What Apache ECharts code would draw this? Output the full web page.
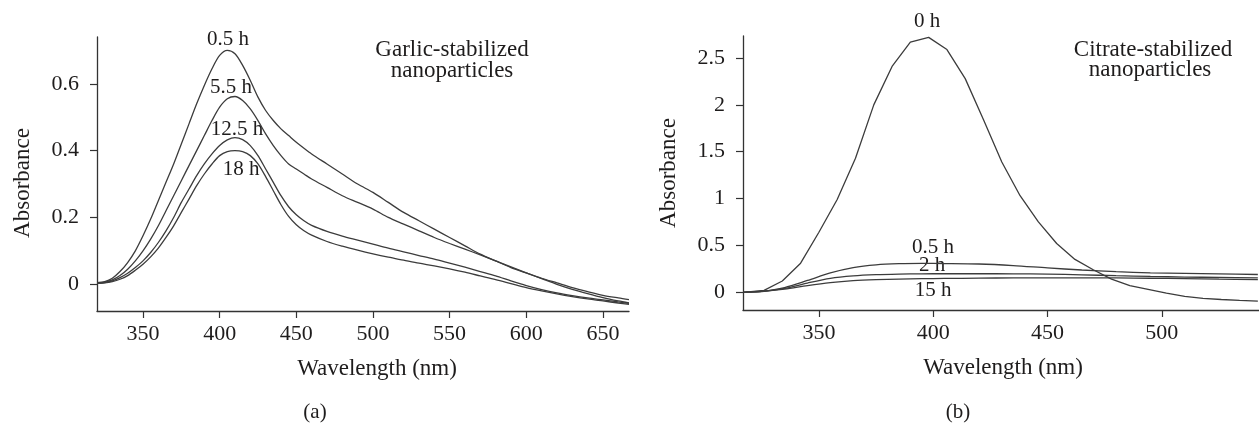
<!DOCTYPE html>
<html><head><meta charset="utf-8">
<script src="https://cdn.jsdelivr.net/npm/echarts@6/dist/echarts.min.js"></script>
<style>html,body{margin:0;padding:0;background:#fff}#c{width:1259px;height:425px}</style>
</head><body><div id="c"></div>
<script>
// ---- Panel (a): garlic-stabilized nanoparticles ----
const wlA = [320,325,330,335,340,345,350,355,360,365,370,375,380,385,390,395,400,405,410,415,420,425,430,435,440,445,450,455,460,470,480,490,500,510,520,530,540,550,560,570,580,590,600,610,620,630,640,650,660,667];
const garlic05h = [0.005,0.008,0.018,0.038,0.065,0.10,0.145,0.195,0.25,0.305,0.36,0.42,0.48,0.54,0.595,0.645,0.685,0.700,0.690,0.655,0.610,0.560,0.520,0.490,0.465,0.445,0.425,0.407,0.39,0.36,0.33,0.30,0.275,0.245,0.215,0.19,0.165,0.14,0.115,0.09,0.07,0.05,0.034,0.018,0.004,-0.01,-0.022,-0.033,-0.041,-0.046];
const garlic55h = [0.004,0.006,0.013,0.026,0.045,0.07,0.10,0.135,0.175,0.22,0.265,0.31,0.355,0.40,0.445,0.49,0.53,0.555,0.562,0.550,0.525,0.490,0.450,0.415,0.385,0.36,0.345,0.33,0.315,0.29,0.265,0.245,0.225,0.20,0.18,0.16,0.14,0.122,0.105,0.088,0.07,0.052,0.034,0.017,0.0,-0.015,-0.028,-0.04,-0.05,-0.056];
const garlic125h = [0.003,0.005,0.01,0.02,0.033,0.05,0.07,0.095,0.125,0.16,0.2,0.245,0.285,0.325,0.36,0.39,0.415,0.432,0.439,0.433,0.415,0.385,0.345,0.305,0.265,0.232,0.208,0.19,0.176,0.158,0.144,0.132,0.12,0.108,0.097,0.086,0.075,0.063,0.051,0.038,0.025,0.01,-0.004,-0.016,-0.026,-0.034,-0.041,-0.047,-0.053,-0.057];
const garlic18h = [0.003,0.004,0.008,0.015,0.026,0.042,0.06,0.082,0.108,0.14,0.175,0.215,0.255,0.295,0.33,0.36,0.385,0.397,0.40,0.397,0.385,0.36,0.322,0.28,0.238,0.203,0.178,0.16,0.147,0.128,0.114,0.102,0.091,0.081,0.072,0.063,0.055,0.046,0.036,0.025,0.014,0.002,-0.01,-0.02,-0.029,-0.037,-0.044,-0.05,-0.056,-0.06];
const xTicksA = [350,400,450,500,550,600,650];
const yTicksA = [0,0.2,0.4,0.6];

// ---- Panel (b): citrate-stabilized nanoparticles ----
const wlB0 = [318,326,334,342,350,358,366,374,382,390,398,406,414,422,430,438,446,454,462,470,478,486,494,502,510,518,526,534,542];
const citrate0h = [0.0,0.02,0.12,0.31,0.64,0.99,1.43,2.0,2.41,2.67,2.72,2.59,2.28,1.84,1.39,1.03,0.75,0.52,0.35,0.24,0.14,0.07,0.03,-0.01,-0.045,-0.065,-0.078,-0.088,-0.095];
const wlB = [317,325,335,345,355,365,375,385,395,405,420,435,450,465,480,495,510,525,542];
const citrate05h = [0.0,0.01,0.05,0.125,0.205,0.262,0.292,0.304,0.307,0.306,0.301,0.284,0.259,0.237,0.219,0.207,0.2,0.195,0.189];
const citrate2h = [0.0,0.008,0.04,0.098,0.148,0.174,0.187,0.193,0.196,0.197,0.197,0.196,0.193,0.186,0.176,0.168,0.162,0.157,0.153];
const citrate15h = [0.0,0.007,0.032,0.07,0.102,0.123,0.134,0.14,0.144,0.147,0.15,0.153,0.153,0.153,0.152,0.149,0.145,0.14,0.135];
const xTicksB = [350,400,450,500];
const yTicksB = [0,0.5,1,1.5,2,2.5];

const TXT = '#1e1c1c';
const AX = '#333333';
const LINE = '#3c3c3c';
const FONT = '"Liberation Serif", "DejaVu Serif", serif';

function pairs(xs, ys){ return xs.map((x,i)=>[x, ys[i]]); }

function xAxisCfg(idx, min, max, ticks){
  return {
    type:'value', gridIndex: idx, min, max,
    name:'Wavelength (nm)', nameLocation:'middle', nameGap:46,
    nameTextStyle:{color:TXT, fontFamily:FONT, fontSize:23, padding: idx===0 ? [0,0,0,28] : [0,0,0,4]},
    axisLine:{show:true, onZero:false, lineStyle:{color:AX, width:1.3}},
    axisTick:{show:true, inside:false, length:7, lineStyle:{color:AX, width:1.2}, customValues:ticks},
    axisLabel:{color:TXT, fontFamily:FONT, fontSize:22, margin:12, customValues:ticks, formatter:v=>String(v)},
    splitLine:{show:false}
  };
}
function yAxisCfg(idx, min, max, ticks, pad){
  return {
    type:'value', gridIndex: idx, min, max,
    name:'Absorbance', nameLocation:'middle', nameGap:63, nameRotate:90,
    nameTextStyle:{color:TXT, fontFamily:FONT, fontSize:23, padding:pad},
    axisLine:{show:true, onZero:false, lineStyle:{color:AX, width:1.3}},
    axisTick:{show:true, inside:false, length:7, lineStyle:{color:AX, width:1.2}, customValues:ticks},
    axisLabel:{color:TXT, fontFamily:FONT, fontSize:22, margin:18, customValues:ticks, formatter:v=>String(v)},
    splitLine:{show:false}
  };
}
function lineSeries(name, xi, data, smooth){
  return {
    type:'line', name, xAxisIndex:xi, yAxisIndex:xi, data, showSymbol:false, symbol:'none',
    smooth: smooth, lineStyle:{color:LINE, width:1.3}, silent:true, animation:false
  };
}
function txt(x, y, text, size){
  return {type:'text', x, y, silent:true, style:{text, fill:TXT, font: size+'px '+FONT,
    textAlign:'center', textVerticalAlign:'middle', align:'center', verticalAlign:'middle'}};
}

const chart = echarts.init(document.getElementById('c'), null, {renderer:'canvas'});
chart.setOption({
  backgroundColor:'#ffffff',
  animation:false,
  grid:[
    {left:97, top:37, width:532, height:274},
    {left:743, top:36, width:516, height:274}
  ],
  xAxis:[ xAxisCfg(0, 320, 667, xTicksA), xAxisCfg(1, 316.8, 542.5, xTicksB) ],
  yAxis:[ yAxisCfg(0, -0.08, 0.74, yTicksA, [0,18,0,0]), yAxisCfg(1, -0.19, 2.735, yTicksB, [0,0,0,0]) ],
  series:[
    lineSeries('0.5 h', 0, pairs(wlA, garlic05h), 0.3),
    lineSeries('5.5 h', 0, pairs(wlA, garlic55h), 0.3),
    lineSeries('12.5 h', 0, pairs(wlA, garlic125h), 0.3),
    lineSeries('18 h', 0, pairs(wlA, garlic18h), 0.3),
    lineSeries('0 h', 1, pairs(wlB0, citrate0h), false),
    lineSeries('0.5 h', 1, pairs(wlB, citrate05h), 0.3),
    lineSeries('2 h', 1, pairs(wlB, citrate2h), 0.3),
    lineSeries('15 h', 1, pairs(wlB, citrate15h), 0.3)
  ],
  graphic:[
    txt(228, 39, '0.5 h', 21),
    txt(231, 87, '5.5 h', 21),
    txt(237, 129, '12.5 h', 21),
    txt(241, 169, '18 h', 21),
    txt(452, 50, 'Garlic-stabilized', 23),
    txt(452, 71, 'nanoparticles', 23),
    txt(927, 21, '0 h', 21),
    txt(933, 247, '0.5 h', 21),
    txt(932, 265, '2 h', 21),
    txt(933, 290, '15 h', 21),
    txt(1153, 50, 'Citrate-stabilized', 23),
    txt(1150, 70, 'nanoparticles', 23),
    txt(315, 412, '(a)', 21),
    txt(958, 412, '(b)', 21)
  ]
});
</script></body></html>
